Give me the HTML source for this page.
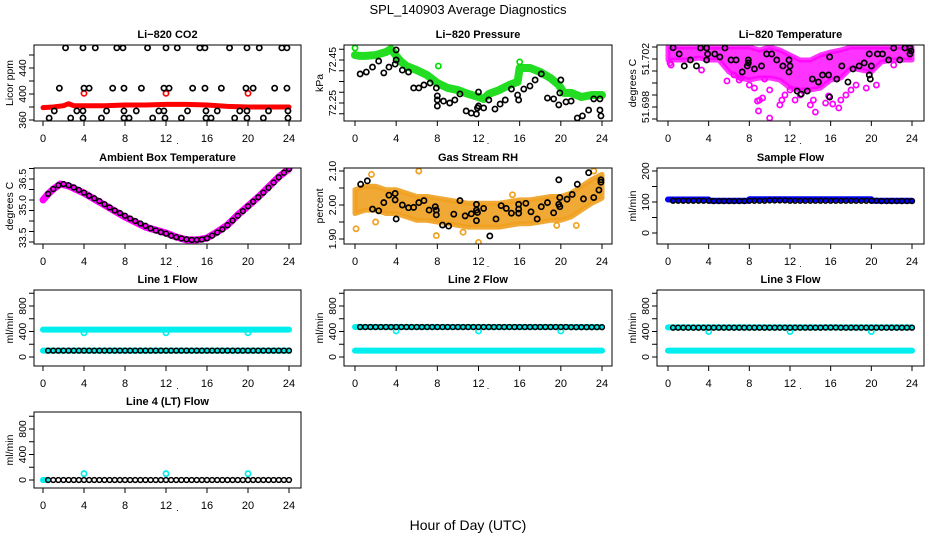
<!DOCTYPE html>
<html><head><meta charset="utf-8">
<style>
html,body{margin:0;padding:0;background:#fff;}
svg{display:block;font-family:"Liberation Sans",Arial,sans-serif;}
</style></head>
<body>
<svg id="chart" width="936" height="540" viewBox="0 0 936 540" xmlns="http://www.w3.org/2000/svg">
<text x="468" y="14" text-anchor="middle" font-size="13">SPL_140903  Average Diagnostics</text>
<text x="468" y="530" text-anchor="middle" font-size="14">Hour of Day (UTC)</text>
</svg>
<script>
// ---------- data ----------
const xTicks=[0,4,8,12,16,20,24];
// CO2
const co2RedT=[0,1,2,2.5,3,4,6,8,10,12,14,16,18,20,22,24];
const co2RedV=[379,380,382,385,382,382,382,383,383,384,384,383,381,380,380,380];
const co2RedOutT=[4,12,20];
const co2RedOutV=[401,401,401];
const co2BlackT=[2.2,3.9,5.1,7.2,7.8,10.2,12.0,13.1,15.3,15.8,18.2,19.9,21.1,23.3,23.8,
 1.6,4,4.5,6.8,7.9,9.6,11.8,12.3,14.6,15.8,17.4,19.8,20.5,22.6,23.8,
 1.1,3.3,3.9,6.2,7.9,9.1,11.3,11.8,14.1,15.9,17,19.2,19.9,22,23.9,
 0.6,2.7,3.9,5.7,7.9,8.4,10.7,11.9,13.5,15.9,16.4,18.7,19.9,21.5,23.9];
const co2BlackV=[471,471,471,471,471,471,471,471,471,471,471,471,471,471,471,
 409,409,409,409,409,409,409,409,409,409,409,409,409,409,409,
 374,374,374,374,374,374,374,374,374,374,374,374,374,374,374,
 363,363,363,363,363,363,363,363,363,363,363,363,363,363,363];
// Pressure
const presGreenT=[0,0.5,1,2,3,3.5,4,4.5,5,6,7,8,9,10,11,12,12.5,13,14,15,15.8,16,17,18,19,19.8,20.3,21,22,23,24];
const presGreenV=[72.473,72.469,72.469,72.473,72.487,72.501,72.469,72.441,72.422,72.403,72.380,72.343,72.320,72.310,72.292,72.278,72.269,72.292,72.310,72.334,72.348,72.413,72.413,72.394,72.366,72.334,72.297,72.297,72.278,72.287,72.287];
const presGreenOutT=[0,8.1,16];
const presGreenOutV=[72.506,72.422,72.441];
const presBlackT=[0.5,1.1,1.7,2.3,2.8,3.3,3.9,4.0,4.0,4.6,5.2,5.7,6.2,6.7,7.3,7.9,8,8,8,8.6,9.2,9.7,10.2,10.8,11.3,11.8,11.9,12,12,12.5,13,13.6,14.1,14.6,15.2,15.8,15.9,16.4,17,17.5,18.1,18.7,19.3,19.8,19.9,20,20.5,21,21.6,22.1,22.7,23.2,23.8,23.8,23.9];
const presBlackV=[72.385,72.394,72.417,72.445,72.390,72.417,72.431,72.45,72.497,72.403,72.394,72.320,72.320,72.334,72.343,72.320,72.283,72.264,72.236,72.259,72.250,72.264,72.292,72.213,72.203,72.199,72.227,72.236,72.301,72.227,72.264,72.222,72.245,72.264,72.315,72.287,72.264,72.315,72.329,72.357,72.385,72.273,72.269,72.241,72.297,72.357,72.255,72.259,72.180,72.190,72.217,72.269,72.269,72.217,72.190];
// Li-820 temperature
const tempHours=[0,1,2,3,4,5,6,7,8,9,10,11,12,13,14,15,16,17,18,19,20,21,22,23,24];
const tempMagHi=[51.703,51.703,51.703,51.703,51.703,51.703,51.703,51.703,51.703,51.70275,51.703,51.70275,51.70233,51.70192,51.70192,51.70233,51.70258,51.70275,51.703,51.703,51.703,51.703,51.703,51.703,51.703];
const tempMagLo=[51.70192,51.70192,51.70192,51.70208,51.70192,51.70192,51.70092,51.70042,51.70025,51.70042,51.70042,51.70025,51.69958,51.69942,51.69942,51.69958,51.70025,51.70042,51.70125,51.70108,51.70092,51.70175,51.70192,51.70192,51.70192];
const tempMagOutT=[0.2,0.3,3.3,5.8,6.5,7,7.2,8,8.5,8.8,9,9.3,9.5,10,8.9,10,11,11.2,11.5,12,12.5,13,14,14.5,14.3,15.5,15.8,16.2,16.8,17,17.5,18,18.5,19.5,20.5,22.2];
const tempMagOutV=[51.70167,51.7015,51.70108,51.70017,51.70067,51.70025,51.70042,51.69983,51.69958,51.6985,51.69858,51.69875,51.70033,51.69942,51.69767,51.69708,51.69817,51.69858,51.699,51.69942,51.69858,51.699,51.69817,51.69758,51.69858,51.69833,51.69892,51.69825,51.69792,51.69858,51.699,51.69942,51.69983,51.69958,51.69983,51.7015];
const tempBlackT=[0.5,1.1,1.6,2.2,2.8,3.2,3.8,3.9,3.8,4.6,5.1,5.6,6.2,6.7,7.3,7.8,7.9,7.9,8.5,9.2,9.7,10.2,10.7,11.3,11.9,11.9,12,12.7,13.1,13.7,14.2,14.8,15.2,15.8,15.9,15.9,16.6,17.1,17.7,18.2,18.8,19.3,19.8,19.9,19.8,20,20.6,21.1,21.7,22.2,22.8,23.3,23.8,23.9,23.8];
const tempBlackV=[51.70294,51.70242,51.70142,51.70192,51.70142,51.70292,51.70292,51.70242,51.70192,51.70242,51.70217,51.70292,51.70192,51.70192,51.70092,51.70142,51.70192,51.70167,51.70117,51.70142,51.70242,51.70242,51.70192,51.70142,51.70192,51.70092,51.70142,51.69933,51.69908,51.69933,51.70033,51.70008,51.70067,51.70067,51.70217,51.69883,51.70033,51.70142,51.70008,51.70117,51.70142,51.70167,51.70067,51.70033,51.70242,51.70142,51.70242,51.70242,51.70192,51.70292,51.70192,51.70292,51.70292,51.70267,51.70242];
// Ambient box temperature
const ambHours=[0,0.5,1,1.7,2.5,4,6,8,10,12,13,14,15,16,17,18,19,20,21,22,23,24];
const ambMag=[35.5,35.79,36.02,36.26,36.17,35.83,35.26,34.69,34.21,33.93,33.74,33.6,33.6,33.69,33.98,34.31,34.79,35.21,35.64,36.12,36.6,36.98];
const ambBlack=[35.79,36.02,36.2,36.26,36.2,36.1,35.98,35.85,35.7,35.58,35.45,35.3,35.15,35.0,34.88,34.75,34.62,34.5,34.38,34.27,34.15,34.05,33.97,33.9,33.8,33.73,33.67,33.63,33.6,33.6,33.62,33.68,33.8,33.95,34.1,34.3,34.52,34.75,34.97,35.2,35.42,35.63,35.85,36.08,36.33,36.58,36.8,36.98];
// Gas stream RH
const rhHours=[0,1,2,3,4,5,6,7,8,9,10,11,12,13,14,15,16,17,18,19,20,21,22,23,24];
const rhHi=[2.045,2.055,2.055,2.045,2.045,2.035,2.025,2.025,2.02,2.015,2.01,2.005,2.005,2.005,2.005,2.01,2.015,2.015,2.02,2.025,2.025,2.035,2.055,2.075,2.09];
const rhLo=[1.975,1.985,1.985,1.975,1.975,1.965,1.955,1.955,1.95,1.945,1.94,1.935,1.935,1.935,1.935,1.94,1.945,1.945,1.95,1.955,1.955,1.965,1.985,2.005,2.02];
const rhOutT=[0.1,1.6,6.2,12,7.9,23.2,19.6,2.0,10.5,15.3,21.5];
const rhOutV=[1.93,2.09,2.10,1.89,1.91,2.10,1.94,1.95,1.92,2.03,1.94];
const rhBlackT=[0.55,1.2,1.7,2.3,2.8,3.3,3.9,3.9,4,4.6,5.2,5.7,6.2,6.7,7.2,7.8,7.9,7.9,8.5,9.1,9.6,10.2,10.7,11.3,11.8,11.8,11.8,11.9,12.5,13.1,13.7,14.2,14.7,15.2,15.9,15.9,15.9,16.6,17.1,17.7,18.1,18.7,19.3,19.8,19.8,19.9,19.9,20.6,21.1,21.6,22.2,22.7,23.2,23.7,23.9,23.9];
const rhBlackV=[2.061,2.071,1.988,1.983,2.007,2.029,2.034,2.015,1.959,2.0,1.992,1.993,2.007,2.013,1.985,1.995,1.985,1.971,1.941,1.938,1.973,2.013,1.968,1.974,2.002,1.985,1.954,1.978,1.990,1.909,1.959,1.998,1.990,1.976,2.002,1.988,1.976,2.005,1.980,1.959,1.995,2.007,1.977,2.074,2.002,2.022,1.995,2.017,2.031,2.061,2.018,2.095,2.022,2.044,2.074,2.067];
// Flows
const halfHours=[0.5,1,1.5,2,2.5,3,3.5,4,4.5,5,5.5,6,6.5,7,7.5,8,8.5,9,9.5,10,10.5,11,11.5,12,12.5,13,13.5,14,14.5,15,15.5,16,16.5,17,17.5,18,18.5,19,19.5,20,20.5,21,21.5,22,22.5,23,23.5,24];
const sampleBlueT=[0,4,4,8,8,20,20,24];
const sampleBlueV=[108,108,104,104,109,109,104,104];
const sampleBlack=[104,104,104,104,104,104,104,104,103,103,103,103,103,103,103,104,104,104,104,105,105,105,105,104,104,104,104,104,104,104,104,104,104,104,104,104,104,104,104,104,104,103,103,103,103,103,103,103];
const outlierT=[4,12,20];
const line1CyanHi=[430,430], line1CyanLo=[100,100], line1CyanT=[0,24];
const line1CyanOut=[380,380,380];
const line1Black=[100,100,100,100,100,100,100,100,100,100,100,100,100,100,100,100,100,100,100,100,100,100,100,100,100,100,100,100,100,100,100,100,100,100,100,100,100,100,100,100,100,100,100,100,100,100,100,100];
const line2CyanHi=[470,470], line2CyanLo=[100,100], line2CyanT=[0,24];
const line2CyanOut=[408,408,408];
const line2Black=[470,470,470,470,470,470,470,470,470,470,470,470,470,470,470,470,470,470,470,470,470,470,470,470,470,470,470,470,470,470,470,470,470,470,470,470,470,470,470,470,470,468,468,468,468,468,468,468];
const line3CyanHi=[465,465], line3CyanLo=[100,100], line3CyanT=[0,24];
const line3CyanOut=[400,400,400];
const line3Black=[460,460,460,460,460,460,460,460,460,460,460,460,460,460,460,460,460,460,460,460,460,460,460,460,460,460,460,460,460,460,462,462,462,460,460,460,460,460,460,460,460,460,460,460,460,460,460,460];
const line4CyanT=[0,0.3], line4Cyan=[0,0];
const line4CyanOut=[100,100,100];
const line4Black=[0,0,0,0,0,0,0,0,0,0,0,0,0,0,0,0,0,0,0,0,0,0,0,0,0,0,0,0,0,0,0,0,0,0,0,0,0,0,0,0,0,0,0,0,0,0,0,0];

// ---------- drawing ----------
const NS='http://www.w3.org/2000/svg';
const svg=document.getElementById('chart');
function mk(parent,tag,name,attrs,txt){
  const el=document.createElementNS(NS,tag);
  
  
  for(const k in attrs) el.setAttribute(k,attrs[k]);
  if(txt!==undefined) el.textContent=txt;
  parent.appendChild(el); return el;
}
const COLS=[{bl:34,br:301,x0:43,x24:289},{bl:344,br:612,x0:355,x24:602},{bl:657,br:924,x0:668,x24:912}];
const ROWS=[45,168,290,412]; const BH=76;

function panel(col,row,name,title,ylab,a,ticks,labels){
  const c=COLS[col], top=ROWS[row], bot=top+BH;
  const g=mk(svg,'g',name+'-panel',{});
  const sx=t=>c.x0+(c.x24-c.x0)*t/24;
  const sy=v=>a[1]+(v-a[0])*(a[3]-a[1])/(a[2]-a[0]);
  const clipId='clip'+col+row;
  const cp=mk(g,'clipPath',name+'-clip',{id:clipId});
  mk(cp,'rect',name+'-clip-rect',{x:c.bl,y:top,width:c.br-c.bl,height:BH});
  const plot=mk(g,'g',name+'-plot-area',{'clip-path':'url(#'+clipId+')'});
  mk(g,'rect',name+'-frame',{x:c.bl,y:top,width:c.br-c.bl,height:BH,fill:'none',stroke:'#000','stroke-width':1});
  mk(g,'text',name+'-title',{x:(c.bl+c.br)/2,y:top-7,'text-anchor':'middle','font-size':11,'font-weight':'bold'},title);
  mk(g,'text',name+'-x-label',{x:(c.bl+c.br)/2+10,y:bot+23,'text-anchor':'middle','font-size':9},'.');
  const ly=(top+bot)/2;
  mk(g,'text',name+'-y-axis-title',{x:c.bl-21,y:ly,'text-anchor':'middle','font-size':10.5,transform:`rotate(-90 ${c.bl-21} ${ly})`},ylab);
  xTicks.forEach(t=>{
    const x=sx(t);
    mk(g,'line',name+'-x-tick',{x1:x,x2:x,y1:bot,y2:bot+5,stroke:'#000'});
    mk(g,'text',name+'-x-tick-label',{x:x,y:bot+21,'text-anchor':'middle','font-size':11},String(t));
  });
  ticks.forEach(v=>{
    const y=sy(v); if(y<top-0.5||y>bot+0.5) return;
    mk(g,'line',name+'-y-tick',{x1:c.bl-5,x2:c.bl,y1:y,y2:y,stroke:'#000'});
  });
  labels.forEach(l=>{
    const y=sy(l[1]), x=c.bl-8;
    mk(g,'text',name+'-y-tick-label',{x:x,y:y,'text-anchor':'middle','font-size':10.5,transform:`rotate(-90 ${x} ${y})`},l[0]);
  });
  return {g:plot,sx,sy};
}
function circles(p,ts,vs,color,name,r,sw,fill){
  ts.forEach((t,i)=>{
    mk(p.g,'circle',name,{cx:p.sx(t),cy:p.sy(vs[i]),r:r||2.6,fill:fill||'none',stroke:color,'stroke-width':sw||1.7});
  });
}
function line(p,ts,vs,color,w,name){
  mk(p.g,'polyline',name,{points:ts.map((t,i)=>p.sx(t)+','+p.sy(vs[i])).join(' '),fill:'none',stroke:color,'stroke-width':w,'stroke-linejoin':'round','stroke-linecap':'round'});
}
function band(p,ts,hi,lo,color,name,op){
  const pts=ts.map((t,i)=>p.sx(t)+','+p.sy(hi[i])).concat(ts.slice().reverse().map((t,j)=>p.sx(t)+','+p.sy(lo[ts.length-1-j])));
  mk(p.g,'polygon',name,{points:pts.join(' '),fill:color,stroke:color,'stroke-width':5,'stroke-linejoin':'round','fill-opacity':op,'stroke-opacity':op});
}

// Panel 1: CO2
let p=panel(0,0,'co2','Li−820 CO2','Licor ppm',[360,120,440,68],[360,380,400,420,440,460],[['360',360],['400',400],['440',440]]);
line(p,co2RedT,co2RedV,'#ff0000',5,'co2-series-red');
circles(p,co2RedOutT,co2RedOutV,'#ff0000','co2-red-point');
circles(p,co2BlackT,co2BlackV,'#000','co2-black-point');

// Panel 2: Pressure
p=panel(1,0,'pressure','Li−820 Pressure','kPa',[72.45,60,72.25,103],[72.2,72.25,72.3,72.35,72.4,72.45,72.5],[['72.25',72.25],['72.45',72.45]]);
line(p,presGreenT,presGreenV,'#22dd22',8,'pressure-series-green');
circles(p,presGreenOutT,presGreenOutV,'#00dd00','pressure-green-point');
circles(p,presBlackT,presBlackV,'#000','pressure-black-point');

// Panel 3: Li-820 temperature
p=panel(2,0,'li820-temp','Li−820 Temperature','degrees C',[51.700,83,51.702,59],[51.697,51.698,51.699,51.700,51.701,51.702,51.703],[['51.698',51.698],['51.702',51.702]]);
band(p,tempHours,tempMagHi,tempMagLo,'#ff00ff','li820-temp-magenta-cloud',0.8);
circles(p,tempMagOutT,tempMagOutV,'#ff00ff','li820-temp-magenta-point');
circles(p,tempBlackT,tempBlackV,'#000','li820-temp-black-point');

// Panel 4: Ambient
p=panel(0,1,'ambient-temp','Ambient Box Temperature','degrees C',[33.5,242,36.5,179],[33.5,34,34.5,35,35.5,36,36.5,37],[['33.5',33.7],['35.0',35.25],['36.5',36.5]]);
line(p,ambHours,ambMag,'#ff00ff',7,'ambient-temp-magenta-line');
circles(p,halfHours,ambBlack,'#000','ambient-temp-black-point',2.4,1.5);

// Panel 5: RH
p=panel(1,1,'gas-rh','Gas Stream RH','percent',[2.0,205,2.1,171],[1.9,1.95,2.0,2.05,2.1],[['1.90',1.9],['2.00',2.0],['2.10',2.1]]);
band(p,rhHours,rhHi,rhLo,'#f0a020','gas-rh-orange-cloud',0.9);
circles(p,rhOutT,rhOutV,'#f0a020','gas-rh-orange-point');
circles(p,rhBlackT,rhBlackV,'#000','gas-rh-black-point');

// Panel 6: Sample flow
p=panel(2,1,'sample-flow','Sample Flow','ml/min',[0,233,200,171],[0,50,100,150,200],[['0',0],['100',100],['200',200]]);
line(p,sampleBlueT,sampleBlueV,'#0000ff',6,'sample-flow-blue-line');
circles(p,halfHours,sampleBlack,'#000','sample-flow-black-point',2.4,1.5);

const flowTicks=[0,200,400,600,800,1000], flowLabels=[['0',0],['400',400],['800',800]];
// Line 1
p=panel(0,2,'line1-flow','Line 1 Flow','ml/min',[0,357,800,306],flowTicks,flowLabels);
line(p,line1CyanT,line1CyanHi,'#00eeee',6,'line1-cyan-high');
line(p,line1CyanT,line1CyanLo,'#00eeee',6,'line1-cyan-low');
circles(p,outlierT,line1CyanOut,'#00eeee','line1-cyan-point');
circles(p,halfHours,line1Black,'#000','line1-black-point',2.4,1.5);
// Line 2
p=panel(1,2,'line2-flow','Line 2 Flow','ml/min',[0,357,800,306],flowTicks,flowLabels);
line(p,line2CyanT,line2CyanHi,'#00eeee',6,'line2-cyan-high');
line(p,line2CyanT,line2CyanLo,'#00eeee',6,'line2-cyan-low');
circles(p,outlierT,line2CyanOut,'#00eeee','line2-cyan-point');
circles(p,halfHours,line2Black,'#000','line2-black-point',2.4,1.5);
// Line 3
p=panel(2,2,'line3-flow','Line 3 Flow','ml/min',[0,357,800,306],flowTicks,flowLabels);
line(p,line3CyanT,line3CyanHi,'#00eeee',6,'line3-cyan-high');
line(p,line3CyanT,line3CyanLo,'#00eeee',6,'line3-cyan-low');
circles(p,outlierT,line3CyanOut,'#00eeee','line3-cyan-point');
circles(p,halfHours,line3Black,'#000','line3-black-point',2.4,1.5);
// Line 4
p=panel(0,3,'line4-flow','Line 4 (LT) Flow','ml/min',[0,480,800,429],flowTicks,flowLabels);
line(p,line4CyanT,line4Cyan,'#00eeee',6,'line4-cyan-line');
circles(p,outlierT,line4CyanOut,'#00eeee','line4-cyan-point');
circles(p,halfHours,line4Black,'#000','line4-black-point',2.4,1.5);
</script>
</body></html>
